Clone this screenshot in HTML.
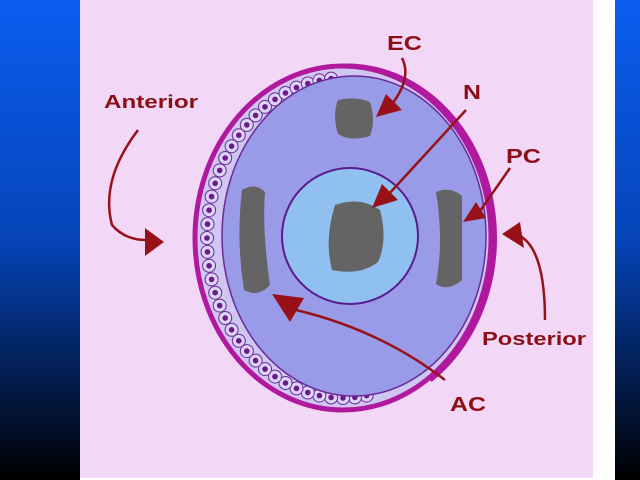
<!DOCTYPE html>
<html><head><style>
html,body{margin:0;padding:0;width:640px;height:480px;overflow:hidden;background:#fff}
.l{position:absolute;top:0;left:0;width:80px;height:480px;background:linear-gradient(#0a5ef0,#0644b8 50%,#000 100%)}
.r{position:absolute;top:0;left:615px;width:25px;height:480px;background:linear-gradient(#0a5ef0,#0644b8 50%,#000 100%)}
.p{position:absolute;top:0;left:80px;width:513px;height:478px;background:#f2d8f6}
svg{position:absolute;top:0;left:0}
text{font-family:"Liberation Sans",sans-serif;font-weight:bold;fill:#8a0f16}
</style></head><body>
<div class="l"></div><div class="r"></div><div class="p"></div>
<svg width="640" height="480" id="s">
<ellipse cx="343" cy="238" rx="148" ry="172" fill="#cfc6f2" stroke="#b0199e" stroke-width="5"/>
<g id="cells"></g>
<ellipse cx="354" cy="236" rx="132" ry="160" fill="#9a9be8" stroke="#6a2a9a" stroke-width="1.5"/>
<path d="M343 66 A148 172 0 0 1 430 380" fill="none" stroke="#b0199e" stroke-width="5"/>
<circle cx="350" cy="236" r="68" fill="#90c0f0" stroke="#5a1a90" stroke-width="2"/>
<path d="M335 205 Q360 196 380 210 Q388 240 378 262 Q360 276 332 270 Q324 240 335 205Z" fill="#646464"/>
<path d="M338 100 Q355 96 370 102 Q376 120 370 136 Q350 142 338 134 Q332 115 338 100Z" fill="#646464"/>
<path d="M242 190 Q255 182 265 192 Q262 230 270 285 Q258 298 244 290 Q236 240 242 190Z" fill="#646464"/>
<path d="M436 192 Q450 186 462 196 Q462 240 462 280 Q448 292 436 284 Q444 240 436 192Z" fill="#646464"/>
<g fill="none" stroke="#991118" stroke-width="2.5">
<path d="M402 58 Q412 78 392 104"/>
<path d="M466 110 L388 195"/>
<path d="M510 168 L478 214"/>
<path d="M138 130 Q100 180 112 225 Q125 240 146 240"/>
<path d="M545 320 Q545 250 520 236"/>
<path d="M445 380 Q380 330 296 310"/>
</g>
<g fill="#991118">
<polygon points="376,117 386,94 402,110"/>
<polygon points="372,208 382,184 398,200"/>
<polygon points="463,222 476,202 486,218"/>
<polygon points="164,242 145,228 145,256"/>
<polygon points="502,234 520,222 524,248"/>
<polygon points="272,294 304,298 290,322"/>
</g>
<text x="387" y="50" font-size="20" textLength="35" lengthAdjust="spacingAndGlyphs">EC</text>
<text x="463" y="99" font-size="20" textLength="18" lengthAdjust="spacingAndGlyphs">N</text>
<text x="506" y="163" font-size="20" textLength="35" lengthAdjust="spacingAndGlyphs">PC</text>
<text x="104" y="108" font-size="18" textLength="94" lengthAdjust="spacingAndGlyphs">Anterior</text>
<text x="482" y="345" font-size="18" textLength="104" lengthAdjust="spacingAndGlyphs">Posterior</text>
<text x="450" y="411" font-size="20" textLength="36" lengthAdjust="spacingAndGlyphs">AC</text>
</svg>
<script>
var g=document.getElementById('cells'),h='';
for(var a=80;a<=268;a+=5){var t=a*Math.PI/180;
var x=343+136*Math.cos(t),y=238+160*Math.sin(t);
h+='<circle cx="'+x.toFixed(1)+'" cy="'+y.toFixed(1)+'" r="6.5" fill="#dcd4f6" stroke="#6a2a9a" stroke-width="1"/><circle cx="'+x.toFixed(1)+'" cy="'+y.toFixed(1)+'" r="2.8" fill="#6a1a8a"/>';}
g.innerHTML=h;
</script>
</body></html>
